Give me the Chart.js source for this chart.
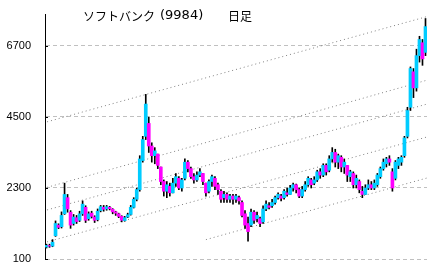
<!DOCTYPE html>
<html>
<head>
<meta charset="utf-8">
<script src="https://cdn.jsdelivr.net/npm/chart.js@4.4.1/dist/chart.umd.min.js"></script>
<style>
  html, body { margin: 0; padding: 0; background: #fff; }
</style>
</head>
<body>
<canvas id="chart" width="434" height="273"></canvas>
<script>
// ソフトバンク (9984) daily candles
const titleParts = ['ソフトバンク', '(9984)', '日足'];
const yTicks = [100, 2300, 4500, 6700];

const opens = [
  470, 520, 500, 820, 1150, 1100, 1500, 2000, 1550, 1200,
  1380, 1300, 1500, 1700, 1350, 1520, 1400, 1320, 1600, 1700,
  1650, 1700, 1640, 1560, 1500, 1420, 1290, 1400, 1480, 1700,
  1950, 2250, 3150, 3900, 4300, 3600, 3300, 3350, 2950, 2500,
  2200, 2350, 2150, 2450, 2600, 2300, 2600, 3100, 2900, 2650,
  2550, 2700, 2750, 2450, 2200, 2500, 2600, 2400, 2200, 2000,
  2100, 1950, 2050, 1950, 2000, 1850, 1500, 1200, 1150, 1550,
  1350, 1350, 1250, 1650, 1750, 1750, 1850, 2000, 2050, 2000,
  2150, 2100, 2300, 2400, 2250, 2050, 2250, 2400, 2550, 2450,
  2550, 2800, 2700, 3000, 2850, 3200, 3400, 3100, 3250, 2950,
  3000, 2650, 2750, 2400, 2500, 2200, 2100, 2300, 2400, 2300,
  2400, 2650, 2900, 3050, 3200, 2800, 2600, 3000, 3100, 3300,
  3900, 4800, 5900, 5400, 6400, 6800, 6500
];
const highs = [
  560, 560, 700, 1280, 1190, 1560, 2450, 2100, 1600, 1480,
  1450, 1580, 1900, 1750, 1560, 1580, 1440, 1650, 1760, 1760,
  1760, 1730, 1660, 1580, 1520, 1440, 1420, 1520, 1760, 2000,
  2300, 3300, 3900, 5200, 4500, 3700, 3550, 3350, 2950, 2550,
  2500, 2450, 2600, 2750, 2650, 2600, 3200, 3150, 2950, 2750,
  2800, 2900, 2750, 2450, 2550, 2700, 2650, 2450, 2250, 2200,
  2150, 2100, 2100, 2100, 2050, 1900, 1600, 1400, 1650, 1600,
  1550, 1400, 1750, 1900, 1850, 1950, 2050, 2150, 2100, 2250,
  2300, 2380, 2450, 2420, 2300, 2350, 2500, 2650, 2600, 2650,
  2850, 2900, 3050, 3050, 3300, 3550, 3500, 3350, 3300, 3200,
  3000, 2850, 2800, 2700, 2550, 2350, 2400, 2550, 2500, 2550,
  2750, 2950, 3200, 3250, 3300, 2900, 3150, 3250, 3300, 3900,
  4800, 6050, 6000, 6600, 7000, 6900, 7550
];
const lows = [
  440, 460, 480, 800, 1040, 1060, 1480, 1550, 1050, 1150,
  1200, 1260, 1450, 1230, 1300, 1370, 1230, 1280, 1560, 1580,
  1610, 1620, 1500, 1450, 1380, 1250, 1270, 1380, 1460, 1680,
  1900, 2200, 3100, 3800, 3400, 3100, 3050, 2900, 2400, 2050,
  2000, 2050, 2150, 2350, 2250, 2200, 2550, 2800, 2600, 2450,
  2500, 2650, 2400, 2050, 2150, 2350, 2250, 2100, 1850, 1850,
  1850, 1850, 1800, 1850, 1800, 1400, 1050, 650, 1100, 1200,
  1250, 1100, 1200, 1600, 1650, 1700, 1800, 1950, 1900, 1950,
  2050, 2100, 2200, 2150, 2000, 2000, 2200, 2350, 2300, 2400,
  2500, 2600, 2650, 2700, 2800, 3100, 2950, 2900, 2800, 2750,
  2500, 2500, 2300, 2300, 2150, 2000, 2100, 2250, 2250, 2250,
  2350, 2600, 2850, 2950, 3000, 2200, 2550, 2900, 3000, 3250,
  3850, 4700, 5100, 5300, 6200, 6100, 6400
];
const closes = [
  520, 500, 620, 1200, 1080, 1450, 2100, 1650, 1150, 1400,
  1260, 1500, 1800, 1300, 1500, 1420, 1300, 1580, 1720, 1640,
  1720, 1660, 1560, 1520, 1420, 1300, 1380, 1470, 1700, 1950,
  2250, 3200, 3800, 4900, 3600, 3300, 3450, 3000, 2500, 2200,
  2400, 2150, 2450, 2650, 2300, 2550, 3100, 2900, 2650, 2550,
  2700, 2800, 2500, 2150, 2500, 2650, 2350, 2250, 1950, 2100,
  1950, 2050, 1950, 2050, 1900, 1450, 1150, 950, 1550, 1300,
  1450, 1200, 1650, 1800, 1700, 1850, 2000, 2100, 1980, 2200,
  2100, 2300, 2400, 2250, 2050, 2250, 2400, 2600, 2400, 2550,
  2800, 2700, 3000, 2800, 3200, 3400, 3100, 3300, 2950, 3100,
  2700, 2800, 2400, 2600, 2250, 2100, 2300, 2400, 2300, 2450,
  2700, 2900, 3100, 3200, 3100, 2300, 3100, 3200, 3250, 3850,
  4700, 6000, 5400, 6400, 6900, 6300, 7300
];

// dotted trend lines: start / end (day index, price)
const trendStartX = [0.2, 0.2, 0.2, 0.2, 53];
const trendStartY = [4350, 2320, 1620, 630, 700];
const trendEndX = [126.5, 126.5, 126.5, 126.5, 126.5];
const trendEndY = [7610, 5640, 4900, 3880, 2610];

const UP = '#00ccff';
const DOWN = '#ff00ff';

const bodyData = opens.map((o, i) => ({ x: i, y: [o, closes[i]] }));
const bodyColors = opens.map((o, i) => (closes[i] >= o ? UP : DOWN));
const wickData = lows.map((l, i) => ({ x: i, y: [l, highs[i]] }));

const trendSets = trendStartX.map((sx, i) => ({
  type: 'line',
  data: [{ x: sx, y: trendStartY[i] }, { x: trendEndX[i], y: trendEndY[i] }],
  borderColor: '#808080',
  borderWidth: 1,
  borderDash: [1, 3],
  pointRadius: 0,
  fill: false,
  order: 2
}));

const overlay = {
  id: 'overlay',
  afterDraw(chart) {
    const ctx = chart.ctx;
    const y = chart.scales.y;
    const left = chart.chartArea.left;
    ctx.save();
    // short tick marks on the axis
    ctx.strokeStyle = '#000';
    ctx.lineWidth = 1;
    yTicks.forEach(v => {
      const py = Math.round(y.getPixelForValue(v)) + 0.5;
      ctx.beginPath();
      ctx.moveTo(left, py);
      ctx.lineTo(left + 3, py);
      ctx.stroke();
    });
    // title
    ctx.fillStyle = '#000';
    ctx.textBaseline = 'middle';
    ctx.textAlign = 'left';
    ctx.font = '12px "Noto Sans CJK JP"';
    ctx.fillText(titleParts[0], 83, 16);
    ctx.font = '13px "DejaVu Sans"';
    ctx.fillText(titleParts[1], 160, 16);
    ctx.font = '12px "Noto Sans CJK JP"';
    ctx.fillText(titleParts[2], 228, 16);
    ctx.restore();
  }
};

new Chart(document.getElementById('chart').getContext('2d'), {
  type: 'bar',
  data: {
    datasets: [
      {
        data: bodyData,
        backgroundColor: bodyColors,
        barThickness: 3,
        grouped: false,
        borderWidth: 0,
        order: 0
      },
      {
        data: wickData,
        backgroundColor: '#000',
        barThickness: 1,
        grouped: false,
        borderWidth: 0,
        order: 1
      },
      ...trendSets
    ]
  },
  options: {
    responsive: false,
    animation: false,
    events: [],
    layout: { padding: { left: 0, right: 7, top: 14, bottom: 14 } },
    plugins: {
      legend: { display: false },
      tooltip: { enabled: false },
      title: { display: false }
    },
    scales: {
      x: {
        type: 'linear',
        min: -0.5,
        max: 126.5,
        offset: false,
        grid: { offset: false, display: false },
        display: false
      },
      y: {
        min: 100,
        max: 7690,
        afterBuildTicks: s => { s.ticks = yTicks.map(v => ({ value: v })); },
        afterFit: s => { s.width = 45; },
        grid: {
          color: '#c0c0c0',
          drawTicks: true,
          tickLength: 14,
          tickColor: 'rgba(0,0,0,0)'
        },
        border: { display: true, color: '#000', width: 1, dash: [4, 3] },
        ticks: {
          padding: 0,
          color: '#000',
          font: { family: 'Liberation Sans', size: 11 },
          callback: v => String(v)
        }
      }
    }
  },
  plugins: [overlay]
});
</script>
</body>
</html>
